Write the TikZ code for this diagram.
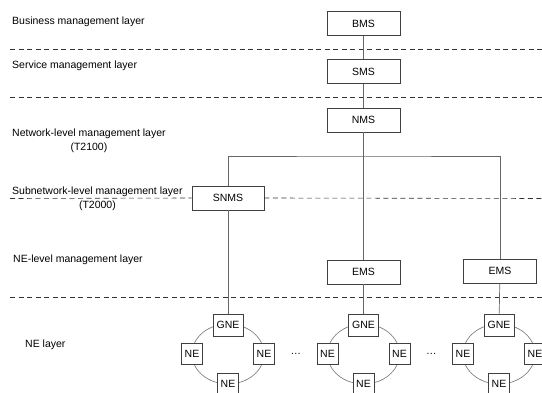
\documentclass[tikz,border=0pt]{standalone}
\usepackage{fontspec}
\setmainfont{Liberation Sans}
\usetikzlibrary{calc,positioning}

\begin{document}
\begin{tikzpicture}[
    x=1pt,y=-1pt,
    font=\fontsize{10.5}{13.5}\selectfont,
    system/.style={draw=black!75,line width=0.7pt,fill=white,rectangle,minimum width=73pt,minimum height=24pt,inner sep=0pt},
    gne/.style={draw=black!75,line width=0.7pt,fill=white,rectangle,minimum width=30pt,minimum height=22pt,inner sep=0pt},
    ne/.style={draw=black!75,line width=0.7pt,fill=white,rectangle,minimum width=21pt,minimum height=21pt,inner sep=0pt},
    link/.style={draw=black!60,line width=0.7pt},
    ring/.style={draw=black!55,line width=0.6pt},
    layerline/.style={draw=black!80,line width=0.6pt,dash pattern=on 5pt off 3.5pt},
    layername/.style={anchor=west,inner sep=0pt,align=center}
    ]
  \useasboundingbox (0,0) rectangle (542,393);

  \node(bms) [system] at (363.5,23.5) {BMS};
  \node(sms) [system] at (363.5,71.5) {SMS};
  \node(nms) [system] at (363.5,120) {NMS};
  \node(snms) [system,minimum width=72pt] at (228,198) {SNMS};
  \node(ems1) [system] at (363.5,272) {EMS};
  \node(ems2) [system] at (500,271) {EMS};
  \coordinate(bus) at (363.5,156);

  \draw[layerline] (10,49) -- (542,49);
  \draw[layerline] (10,97) -- (542,97);
  \draw[layerline] (10,198.5) -- (snms.west);
  \draw[layerline] (snms.east) -- (542,198.5);
  \draw[layerline] (10,297) -- (542,297);

  \node(businessName) [layername] at (12,22) {Business management layer};
  \node(serviceName) [layername] at (12,66) {Service management layer};
  \node(networkName) [layername] at (12,141) {Network-level management layer\\(T2100)};
  \node(subnetworkName) [layername] at (12,199) {Subnetwork-level management layer\\(T2000)};
  \node(neLevelName) [layername] at (13,260) {NE-level management layer};
  \node(neName) [layername] at (25,345) {NE layer};

  \coordinate(ring1) at (228,354);
  \coordinate(ring2) at (363.5,354);
  \coordinate(ring3) at (499,354);
  \draw[ring] (ring1) ellipse (36 and 30);
  \draw[ring] (ring2) ellipse (36 and 30);
  \draw[ring] (ring3) ellipse (36 and 30);

  \node(gne1) [gne,yshift=29pt] at (ring1) {GNE};
  \node(ne1l) [ne,xshift=-36pt] at (ring1) {NE};
  \node(ne1r) [ne,xshift=36pt] at (ring1) {NE};
  \node(ne1b) [ne,yshift=-30pt] at (ring1) {NE};

  \node(gne2) [gne,yshift=29pt] at (ring2) {GNE};
  \node(ne2l) [ne,xshift=-36pt] at (ring2) {NE};
  \node(ne2r) [ne,xshift=36pt] at (ring2) {NE};
  \node(ne2b) [ne,yshift=-30pt] at (ring2) {NE};

  \node(gne3) [gne,yshift=29pt] at (ring3) {GNE};
  \node(ne3l) [ne,xshift=-36pt] at (ring3) {NE};
  \node(ne3r) [ne,xshift=36pt] at (ring3) {NE};
  \node(ne3b) [ne,yshift=-30pt] at (ring3) {NE};

  \node(dots1) at ($(ring1)!0.5!(ring2)$) {\dots};
  \node(dots2) at ($(ring2)!0.5!(ring3)$) {\dots};

  \draw[link] (bms) -- (sms);
  \draw[link] (sms) -- (nms);
  \draw[link] (nms) -- (ems1);
  \draw[link] (snms.north) |- (bus) -| (ems2.north);
  \draw[link] (snms) -- (gne1);
  \draw[link] (ems1) -- (gne2);
  \draw[link] (ems2) -- (gne3);

\end{tikzpicture}
\end{document}
